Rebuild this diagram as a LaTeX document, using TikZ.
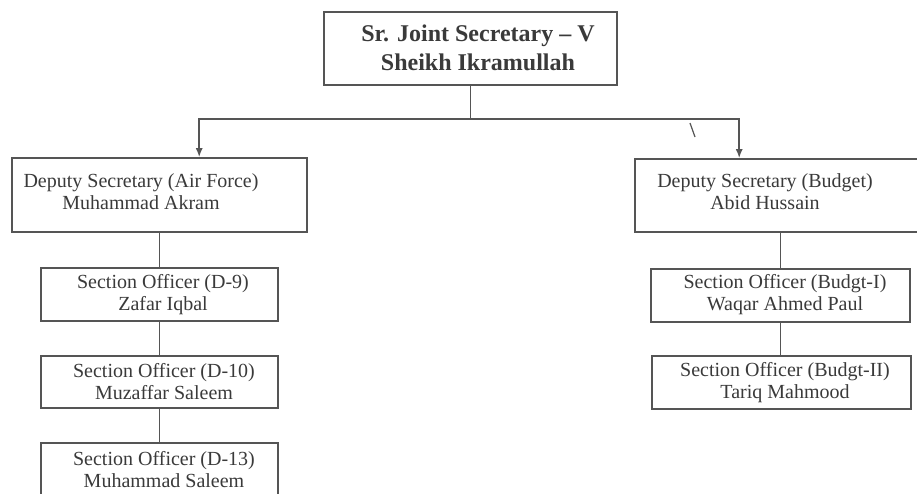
\documentclass[tikz,border=0pt]{standalone}
\usepackage{fontspec}
\setmainfont{Liberation Serif}
\usetikzlibrary{arrows.meta}
\definecolor{ink}{HTML}{3A3A3A}
\definecolor{rule}{HTML}{555555}
\tikzset{
  box/.style={draw=rule, line width=1.6pt, rectangle, inner sep=0pt},
  txt/.style={text=ink, align=center, inner sep=0pt, font=\fontsize{20}{22}\selectfont},
  bigtxt/.style={text=ink, align=center, inner sep=0pt, font=\bfseries\fontsize{24}{29}\selectfont},
  link/.style={draw=rule, line width=1.6pt},
  arr/.style={link, -{Latex[length=9pt,width=7pt]}}
}
\begin{document}
\begin{tikzpicture}[x=1pt,y=-1pt]
\clip (0,0) rectangle (917,493);
\fill[white] (0,0) rectangle (917,493);
% boxes
\node[box, minimum width=293pt, minimum height=73pt] (top) at (470.5,48.5) {};
\node[box, minimum width=295pt, minimum height=74pt] (dsaf) at (159.5,195) {};
\node[box, minimum width=237pt, minimum height=53pt] (so9) at (159.5,294.5) {};
\node[box, minimum width=237pt, minimum height=52pt] (so10) at (159.5,382) {};
\node[box, minimum width=237pt, minimum height=52pt] (so13) at (159.5,469) {};
\node[box, minimum width=295pt, minimum height=73pt] (dsb) at (782.5,195.5) {};
\node[box, minimum width=259pt, minimum height=53pt] (sob1) at (780.5,295.5) {};
\node[box, minimum width=259pt, minimum height=53pt] (sob2) at (781.5,382.5) {};
% texts
\node[bigtxt] (ttop) at (478,47.5) {Sr. Joint Secretary -- V\\Sheikh Ikramullah};
\node[txt] (tdsaf) at (141,191.5) {Deputy Secretary (Air Force)\\Muhammad Akram};
\node[txt] (tso9) at (163,295) {Section Officer (D-9)\\Zafar Iqbal};
\node[txt] (tso10) at (164,382) {Section Officer (D-10)\\Muzaffar Saleem};
\node[txt] (tso13) at (164,469.5) {Section Officer (D-13)\\Muhammad Saleem};
\node[txt] (tdsb) at (765,191.5) {Deputy Secretary (Budget)\\Abid Hussain};
\node[txt] (tsob1) at (785,295) {Section Officer (Budgt-I)\\Waqar Ahmed Paul};
\node[txt] (tsob2) at (785,382.5) {Section Officer (Budgt-II)\\Tariq Mahmood};
% connectors
\coordinate (j) at (470.5,119);
\draw[link] (top.south) -- (j);
\draw[arr] (j) -| ([xshift=188pt]dsaf.north west);
\draw[arr] (j) -| ([xshift=105pt]dsb.north west);
\draw[link] (dsaf.south) -- (so9.north);
\draw[link] (so9.south) -- (so10.north);
\draw[link] (so10.south) -- (so13.north);
\draw[link] (sob1.north |- dsb.south) -- (sob1.north);
\draw[link] (sob1.south) -- (sob1.south |- sob2.north);
% stray mark
\coordinate (m1) at (690,123);
\coordinate (m2) at (695,137);
\draw[draw=rule, line width=1.2pt] (m1) -- (m2);
\end{tikzpicture}
\end{document}
